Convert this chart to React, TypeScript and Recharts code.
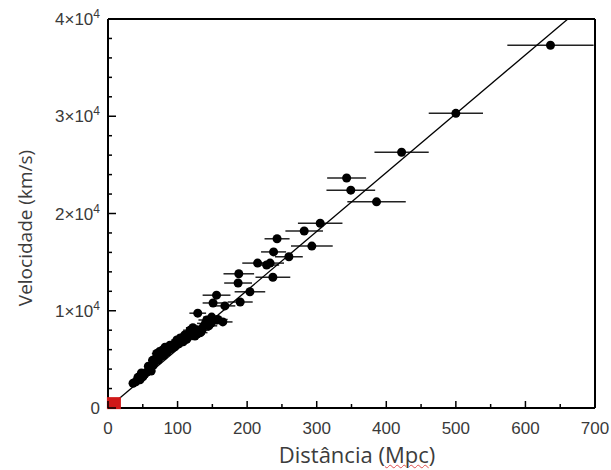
import { ScatterChart, Scatter, XAxis, YAxis, ErrorBar } from "recharts"

// galaxies: distance (Mpc), velocity (km/s), distance uncertainty (Mpc)
const distance = [636, 500, 422, 343, 349, 386, 305, 282, 293, 260, 243, 238, 215, 233, 188, 237, 187, 204, 156, 190, 151, 168, 129, 149, 165, 137, 128, 118, 122, 133, 110, 104, 113, 99, 95, 89, 82, 85, 78, 76, 70, 72, 67, 65, 60, 62, 56, 50, 43, 46, 36, 40, 53, 92, 108, 125, 140, 145, 158, 142, 120, 228, 70, 74, 74, 80, 80, 64, 58, 48, 88, 96, 102, 115, 128, 135, 148, 156]
const velocity = [37300, 30300, 26300, 23650, 22400, 21200, 19000, 18200, 16650, 15550, 17400, 16050, 14900, 14900, 13800, 13450, 12850, 11950, 11600, 10900, 10800, 10500, 9750, 9350, 8850, 8350, 8050, 8000, 8250, 7750, 7500, 7200, 7050, 7000, 6600, 6450, 6250, 5750, 5900, 5300, 5250, 4900, 4750, 4400, 4100, 3800, 3700, 3200, 3150, 2900, 2550, 2700, 3500, 6150, 6800, 7400, 8700, 8450, 9100, 9050, 7600, 14700, 5600, 5500, 5800, 5400, 6000, 4900, 4300, 3600, 6000, 6300, 6600, 7300, 7600, 8000, 8700, 9050]
const distanceErr = [62, 39, 39, 28, 35, 42, 32, 27, 30, 20, 18, 18, 22, 20, 22, 25, 20, 22, 20, 18, 15, 15, 12, 12, 14, 12, 12, 10, 10, 10, 10, 9, 9, 8, 8, 8, 8, 8, 7, 7, 7, 6, 6, 6, 6, 6, 5, 5, 5, 5, 4, 4, 5, 8, 9, 10, 12, 12, 14, 12, 10, 18, 7, 7, 7, 7, 7, 6, 6, 5, 8, 8, 9, 10, 11, 11, 12, 13]

// Hubble law fit line
const fitDistance = [0, 661]
const fitVelocity = [0, 40000]

// local reference marker at the origin
const originDistance = [8.5]
const originVelocity = [500]

const xTicks = [0, 50, 100, 150, 200, 250, 300, 350, 400, 450, 500, 550, 600, 650, 700]
const xLabels = [0, 100, 200, 300, 400, 500, 600, 700]
const yTicks = [0, 2000, 4000, 6000, 8000, 10000, 12000, 14000, 16000, 18000, 20000, 22000, 24000, 26000, 28000, 30000, 32000, 34000, 36000, 38000, 40000]
const yLabels = [0, 10000, 20000, 30000, 40000]

const galaxies = distance.map((d, i) => ({ d, v: velocity[i], err: distanceErr[i] }))
const fit = fitDistance.map((d, i) => ({ d, v: fitVelocity[i] }))
const origin = originDistance.map((d, i) => ({ d, v: originVelocity[i] }))

const labelFont = "'Liberation Sans', Arial, sans-serif"
const textColor = "#3a3a3a"

function BottomTick({ x, y, payload }: any) {
  const major = xLabels.includes(payload.value)
  return (
    <g>
      <line x1={x} x2={x} y1={y} y2={y - (major ? 7 : 4)} stroke="#000" strokeWidth={1.5} />
      {major && (
        <text x={x} y={y + 26} textAnchor="middle" fontSize={17} fill={textColor} fontFamily={labelFont}>
          {payload.value}
        </text>
      )}
    </g>
  )
}

function TopTick({ x, y, payload }: any) {
  const major = xLabels.includes(payload.value)
  return <line x1={x} x2={x} y1={y} y2={y + (major ? 7 : 4)} stroke="#000" strokeWidth={1.5} />
}

function LeftTick({ x, y, payload }: any) {
  const major = yLabels.includes(payload.value)
  const v = payload.value
  return (
    <g>
      <line x1={x} x2={x + (major ? 8 : 4)} y1={y} y2={y} stroke="#000" strokeWidth={1.5} />
      {major && (
        <text x={x - 8} y={y + 6} textAnchor="end" fontSize={17} fill={textColor} fontFamily={labelFont}>
          {v === 0 ? "0" : `${v / 10000}×10`}
          {v !== 0 && <tspan dy={-7} fontSize={12}>4</tspan>}
        </text>
      )}
    </g>
  )
}

function RightTick({ x, y, payload }: any) {
  const major = yLabels.includes(payload.value)
  return <line x1={x} x2={x - (major ? 8 : 4)} y1={y} y2={y} stroke="#000" strokeWidth={1.5} />
}

const Dot = (p: any) => <circle cx={p.cx} cy={p.cy} r={4.5} fill="#000" />
const RedSquare = (p: any) => <rect x={p.cx - 7} y={p.cy - 6} width={14} height={12} fill="#d01818" />
const NoDot = () => <g />

const axisStroke = { stroke: "#000", strokeWidth: 2 }

export default function App() {
  return (
    <div style={{ position: "absolute", left: 0, top: 0, width: 611, height: 470, background: "#fff" }}>
      <ScatterChart width={611} height={470} margin={{ top: 18, right: 15, bottom: 61, left: 107 }}>
        <XAxis
          xAxisId="bottom"
          dataKey="d"
          type="number"
          domain={[0, 700]}
          ticks={xTicks}
          interval={0}
          height={1}
          tickSize={0}
          tickMargin={0}
          tickLine={false}
          tick={<BottomTick />}
          axisLine={axisStroke}
        />
        <XAxis
          xAxisId="top"
          orientation="top"
          dataKey="d"
          type="number"
          domain={[0, 700]}
          ticks={xTicks}
          interval={0}
          height={1}
          tickSize={0}
          tickMargin={0}
          tickLine={false}
          tick={<TopTick />}
          axisLine={axisStroke}
        />
        <YAxis
          yAxisId="left"
          dataKey="v"
          type="number"
          domain={[0, 40000]}
          ticks={yTicks}
          interval={0}
          width={1}
          tickSize={0}
          tickMargin={0}
          tickLine={false}
          tick={<LeftTick />}
          axisLine={axisStroke}
        />
        <YAxis
          yAxisId="right"
          orientation="right"
          dataKey="v"
          type="number"
          domain={[0, 40000]}
          ticks={yTicks}
          interval={0}
          width={1}
          tickSize={0}
          tickMargin={0}
          tickLine={false}
          tick={<RightTick />}
          axisLine={axisStroke}
        />
        <Scatter
          xAxisId="bottom"
          yAxisId="left"
          data={fit}
          line={{ stroke: "#000", strokeWidth: 1.3 }}
          shape={NoDot}
          isAnimationActive={false}
        />
        <Scatter
          xAxisId="bottom"
          yAxisId="left"
          data={galaxies}
          fill="#000"
          shape={Dot}
          isAnimationActive={false}
        >
          <ErrorBar dataKey="err" direction="x" width={0} stroke="#222" strokeWidth={1.5} />
        </Scatter>
        <Scatter
          xAxisId="bottom"
          yAxisId="left"
          data={origin}
          shape={RedSquare}
          isAnimationActive={false}
        />
      </ScatterChart>
      <div
        style={{
          position: "absolute",
          left: 25,
          top: 228,
          transform: "translate(-50%, -50%) rotate(-90deg)",
          whiteSpace: "nowrap",
          fontFamily: "'Open Sans', sans-serif",
          fontSize: 19,
          color: "#3c3c3c",
        }}
      >
        Velocidade (km/s)
      </div>
      <div
        style={{
          position: "absolute",
          left: 357,
          top: 454,
          transform: "translate(-50%, -50%)",
          whiteSpace: "nowrap",
          fontFamily: "'Open Sans', sans-serif",
          fontSize: 22,
          color: "#3c3c3c",
        }}
      >
        Distância (
        <span style={{ textDecoration: "underline wavy #e05050", textDecorationThickness: 1 }}>Mpc</span>)
      </div>
    </div>
  )
}
